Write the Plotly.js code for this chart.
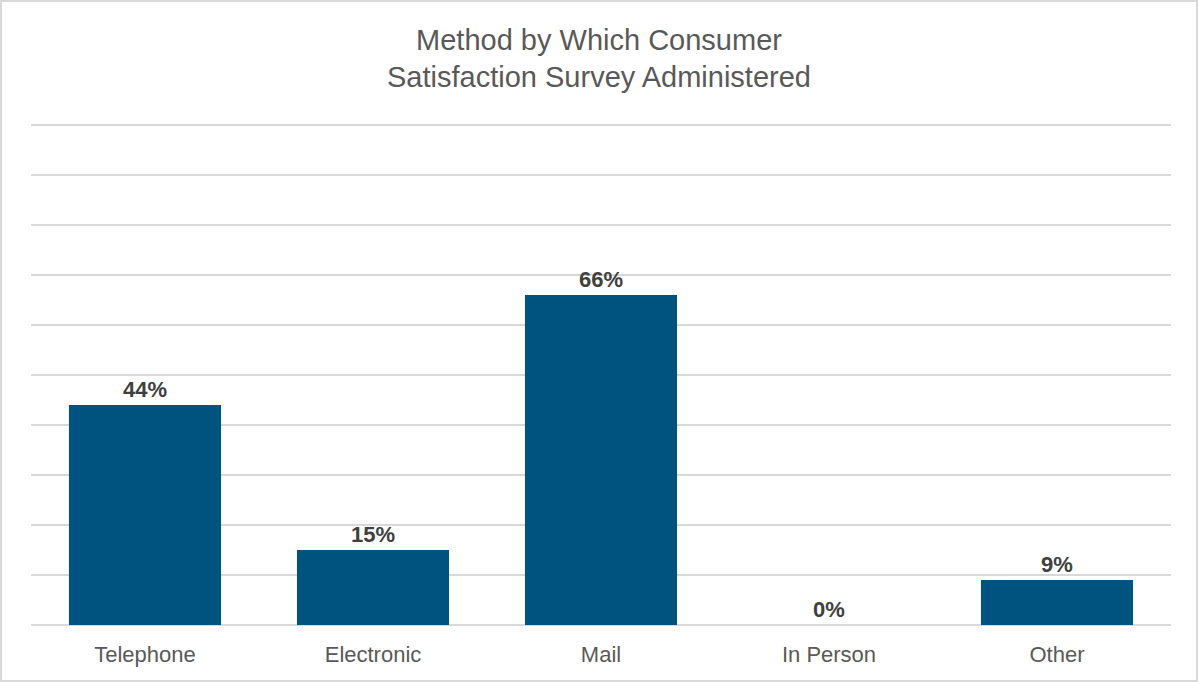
<!DOCTYPE html>
<html>
<head>
<meta charset="utf-8">
<script src="https://cdn.plot.ly/plotly-3.0.1.min.js"></script>
<style>
html,body{margin:0;padding:0;background:#fff;}
#wrap{position:relative;width:1198px;height:682px;}
#chart{position:absolute;left:0;top:0;width:1198px;height:682px;}
#frame{position:absolute;left:0;top:0;width:1198px;height:682px;box-sizing:border-box;border:2px solid #D9D9D9;pointer-events:none;}
</style>
</head>
<body>
<div id="wrap"><div id="chart"></div><div id="frame"></div></div>
<script>
var categories = ["Telephone", "Electronic", "Mail", "In Person", "Other"];
var values = [44, 15, 66, 0, 9];
var labels = ["44%", "15%", "66%", "0%", "9%"];

var trace = {
  type: "bar",
  x: categories,
  y: values,
  text: labels,
  textposition: "outside",
  texttemplate: "%{text}",
  cliponaxis: false,
  textfont: {family: "Liberation Sans, Arial, sans-serif", size: 22, color: "#404040", weight: "bold"},
  marker: {color: "#00527F"},
  hoverinfo: "skip"
};

var layout = {
  width: 1198,
  height: 682,
  margin: {l: 31, r: 27, t: 123, b: 57},
  paper_bgcolor: "#ffffff",
  plot_bgcolor: "#ffffff",
  bargap: 0.333,
  showlegend: false,
  title: {
    text: "Method by Which Consumer<br>Satisfaction Survey Administered",
    font: {family: "Liberation Sans, Arial, sans-serif", size: 29, color: "#595959"},
    x: 0.5, xanchor: "center", y: 0.927, yanchor: "middle"
  },
  xaxis: {
    type: "category",
    tickfont: {family: "Liberation Sans, Arial, sans-serif", size: 22, color: "#595959"},
    ticklabelstandoff: 14,
    showline: false,
    ticks: "",
    showgrid: false,
    fixedrange: true
  },
  yaxis: {
    range: [0, 100.4],
    tickvals: [0, 10, 20, 30, 40, 50, 60, 70, 80, 90, 100],
    showticklabels: false,
    showgrid: true,
    gridcolor: "#D9D9D9",
    gridwidth: 2,
    zeroline: true,
    zerolinecolor: "#D9D9D9",
    zerolinewidth: 2,
    ticks: "",
    fixedrange: true
  },
  font: {family: "Liberation Sans, Arial, sans-serif"}
};

Plotly.newPlot("chart", [trace], layout, {displayModeBar: false, staticPlot: true});
</script>
</body>
</html>
